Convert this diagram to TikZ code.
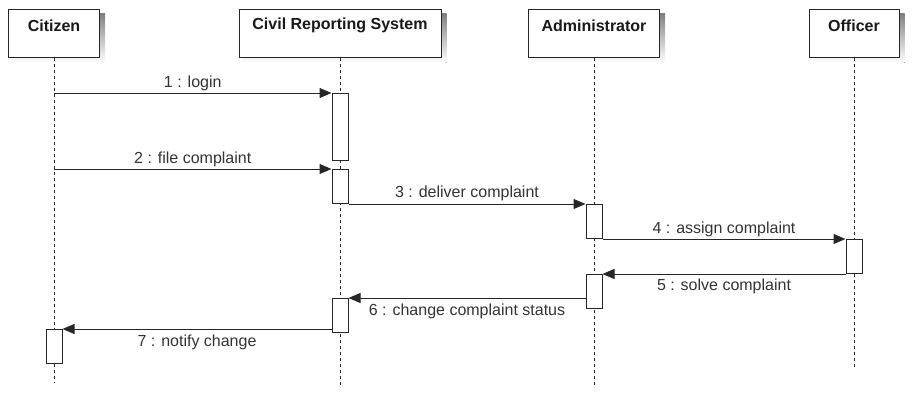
\documentclass[tikz,border=0pt]{standalone}
\usepackage{fontspec}
\setmainfont{Liberation Sans}
\usetikzlibrary{arrows.meta,backgrounds}

\definecolor{ink}{HTML}{333333}
\definecolor{shade}{HTML}{E4E4E4}

\tikzset{
  head/.style={draw=black!85, line width=1pt, fill=white, inner sep=0pt, minimum height=48pt},
  title/.style={font=\bfseries\fontsize{16}{18}\selectfont, text=black!90},
  lifeline/.style={draw=black!85, line width=1pt, dash pattern=on 3pt off 3pt},
  act/.style={draw=black!85, line width=1pt, fill=white, inner sep=0pt, minimum width=16pt, anchor=north},
  msg/.style={draw=black!85, line width=1pt, -{Triangle[length=12pt,width=10pt]}},
  lbl/.style={font=\fontsize{16}{18}\selectfont, text=ink}
}

\begin{document}
\begin{tikzpicture}[x=1pt, y=-1pt]
  \useasboundingbox (0,0) rectangle (922,407);

  % heads
  \node[head, minimum width=91pt]  (cit) at (54,33)  {};
  \node[head, minimum width=202pt] (crs) at (340,33) {};
  \node[head, minimum width=131pt] (adm) at (594,33) {};
  \node[head, minimum width=90pt]  (off) at (854,33) {};

  \foreach \h/\t in {cit/Citizen, crs/Civil Reporting System, adm/Administrator, off/Officer}
    \node[title] at ([yshift=-17pt]\h.north) {\t};

  % shadows behind the heads
  \begin{scope}[on background layer]
    \foreach \h in {cit,crs,adm,off}
      \fill[shade] ([shift={(5,5)}]\h.north west) rectangle ([shift={(5,5)}]\h.south east);
  \end{scope}

  % lifelines
  \coordinate (cit-end) at (cit.south |- 0,383);
  \coordinate (crs-end) at (crs.south |- 0,385);
  \coordinate (adm-end) at (adm.south |- 0,385);
  \coordinate (off-end) at (off.south |- 0,369);
  \foreach \h in {cit,crs,adm,off}
    \draw[lifeline] (\h.south) -- (\h-end);

  % activations
  \node[act, minimum height=67pt] (crsA) at (340,93)  {};
  \node[act, minimum height=34pt] (crsB) at (340,169) {};
  \node[act, minimum height=34pt] (admA) at (crsB.south -| adm.south) {};
  \node[act, minimum height=34pt] (offA) at (admA.south -| off.south) {};
  \node[act, minimum height=34pt] (admB) at (offA.south -| adm.south) {};
  \node[act, minimum height=34pt] (crsC) at (340,298) {};
  \node[act, minimum height=34pt] (citA) at (54,329)  {};

  % messages
  \coordinate (login) at (cit.south |- crsA.north);
  \coordinate (file) at (cit.south |- crsB.north);
  \draw[msg] (login) -- node[lbl, above=-2pt] {1 : login} (crsA.north west);
  \draw[msg] (file) -- node[lbl, above=-2pt] {2 : file complaint} (crsB.north west);
  \draw[msg] (crsB.south east) -- node[lbl, above=-1pt] {3 : deliver complaint} (admA.north west);
  \draw[msg] (admA.south east) -- node[lbl, above=-2pt] {4 : assign complaint} (offA.north west);
  \draw[msg] (offA.south west) -- node[lbl, below=1pt] {5 : solve complaint} (admB.north east);
  \draw[msg] (crsC.north east -| admB.west) -- node[lbl, below=2pt] {6 : change complaint status} (crsC.north east);
  \draw[msg] (citA.north east -| crsC.west) -- node[lbl, below=2pt] {7 : notify change} (citA.north east);
\end{tikzpicture}
\end{document}
